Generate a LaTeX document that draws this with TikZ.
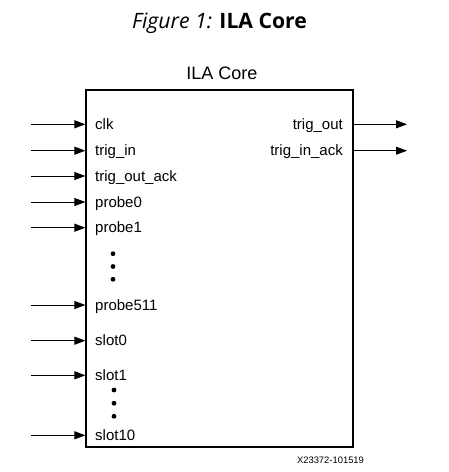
\documentclass[tikz,border=0pt]{standalone}
\usepackage{fontspec}
\setmainfont{Liberation Sans}
\newfontfamily\titlefont{Open Sans}
\usetikzlibrary{arrows.meta}
\tikzset{
  arr/.style={line width=1pt, -{Triangle[length=11pt,width=8pt]}},
  inlbl/.style={anchor=base west, inner sep=0pt, font=\fontsize{15}{17}\selectfont},
  outlbl/.style={anchor=base east, inner sep=0pt, font=\fontsize{15}{17}\selectfont},
  corebox/.style={draw, line width=1.2pt, minimum width=267pt, minimum height=357pt, inner sep=0pt},
  vdot/.style={fill, circle, inner sep=0pt, minimum size=4.8pt}
}
\begin{document}
\begin{tikzpicture}[x=1pt,y=-1pt]
\useasboundingbox (0,0) rectangle (448,472);
% title
\node[anchor=base, inner sep=0pt, font=\titlefont\fontsize{21.2}{24}\selectfont] (title) at (219.5,28.5) {\textit{Figure 1:} \textbf{ILA Core}};
% box
\node[corebox] (core) at (219.5,268.5) {};
\node[anchor=base, inner sep=0pt, font=\fontsize{18}{20}\selectfont] (corelbl) at (222,79) {ILA Core};
% inputs
\foreach \nm/\txt/\yy in {clk/clk/124.3, trigin/trig\_in/150.7, trigoutack/trig\_out\_ack/176, probe0/probe0/202, probe1/probe1/227.7, probe511/probe511/305, slot0/slot0/340.7, slot1/slot1/375.3, slot10/slot10/435.3}{
  \coordinate (s-\nm) at (31,\yy);
  \node[inlbl] (l-\nm) at (95,\yy+5) {\txt};
  \draw[arr] (s-\nm) -- (s-\nm -| core.west);
}
% outputs
\foreach \nm/\txt/\yy in {trigout/trig\_out/124.3, triginack/trig\_in\_ack/150.7}{
  \coordinate (e-\nm) at (407,\yy);
  \node[outlbl] (l-\nm) at (343,\yy+5) {\txt};
  \draw[arr] (e-\nm -| core.east) -- (e-\nm);
}
% dots
\node[vdot] (d1) at (113,253.7) {};
\node[vdot] (d2) at (113,266.5) {};
\node[vdot] (d3) at (113,279.3) {};
\node[vdot] (d4) at (114,390) {};
\node[vdot] (d5) at (114,403.2) {};
\node[vdot] (d6) at (114,416.3) {};
% footer
\node[anchor=base, inner sep=0pt, font=\fontsize{9.4}{11}\selectfont] (foot) at (330.5,463) {X23372-101519};
\end{tikzpicture}
\end{document}
